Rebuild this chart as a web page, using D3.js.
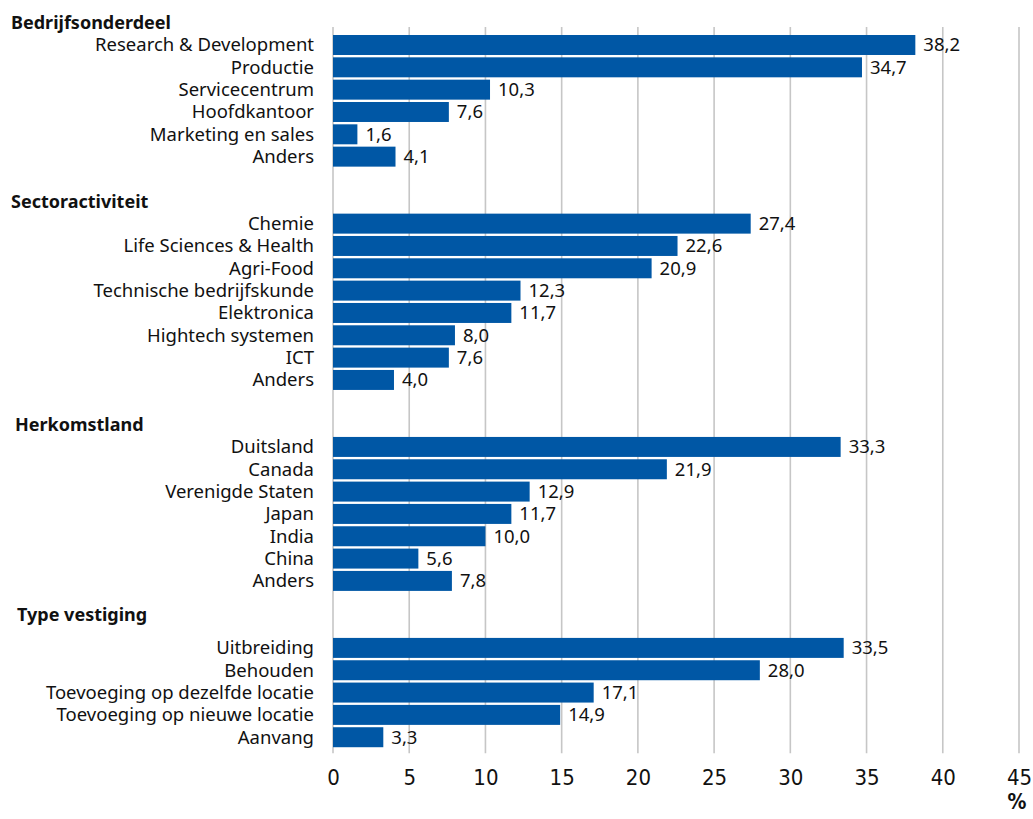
<!DOCTYPE html>
<html>
<head>
<meta charset="utf-8">
<script src="https://cdn.jsdelivr.net/npm/d3@7"></script>
<style>
  html, body { margin: 0; padding: 0; background: #fff; }
  svg { display: block; }
</style>
</head>
<body>
<svg id="chart" width="1033" height="819"></svg>
<script>
// Group titles
const groupTitles = ["Bedrijfsonderdeel", "Sectoractiviteit", "Herkomstland", "Type vestiging"];

// Bedrijfsonderdeel
const bedrijfsonderdeelLabels = ["Research & Development", "Productie", "Servicecentrum", "Hoofdkantoor", "Marketing en sales", "Anders"];
const bedrijfsonderdeelValues = [38.2, 34.7, 10.3, 7.6, 1.6, 4.1];

// Sectoractiviteit
const sectorLabels = ["Chemie", "Life Sciences & Health", "Agri-Food", "Technische bedrijfskunde", "Elektronica", "Hightech systemen", "ICT", "Anders"];
const sectorValues = [27.4, 22.6, 20.9, 12.3, 11.7, 8.0, 7.6, 4.0];

// Herkomstland
const herkomstLabels = ["Duitsland", "Canada", "Verenigde Staten", "Japan", "India", "China", "Anders"];
const herkomstValues = [33.3, 21.9, 12.9, 11.7, 10.0, 5.6, 7.8];

// Type vestiging
const vestigingLabels = ["Uitbreiding", "Behouden", "Toevoeging op dezelfde locatie", "Toevoeging op nieuwe locatie", "Aanvang"];
const vestigingValues = [33.5, 28.0, 17.1, 14.9, 3.3];

// Axis ticks
const tickValues = [0, 5, 10, 15, 20, 25, 30, 35, 40, 45];
const unitLabel = "%";

const groupLabels = [bedrijfsonderdeelLabels, sectorLabels, herkomstLabels, vestigingLabels];
const groupValues = [bedrijfsonderdeelValues, sectorValues, herkomstValues, vestigingValues];

// ---- layout ----
const BLUE = "#0057a5";
const GRID = "#c6c6c6";
const LABEL_FONT = "'Noto Sans', 'Open Sans', sans-serif";
const TICK_FONT = "'Liberation Sans Narrow', 'DejaVu Sans Condensed', sans-serif";
const headerX = [11, 11, 15, 17];
const headerNudge = [0, 0, 0, -0.5];   // in row steps

// Build row keys: header row, category rows, spacer row between groups
const rows = [];
groupTitles.forEach((t, g) => {
  if (g > 0) rows.push({ key: "gap-" + g, type: "gap" });
  rows.push({ key: "head-" + g, type: "head", g, text: t });
  groupLabels[g].forEach((lab, i) => {
    rows.push({ key: g + "-" + i, type: "bar", g, label: lab, value: groupValues[g][i] });
  });
});

const svg = d3.select("#chart");

const x = d3.scaleLinear().domain([0, 45]).range([333, 1019]);

const step = 22.33;
const pad = 0.105;
const y = d3.scaleBand()
  .domain(rows.map(r => r.key))
  .range([11.5, 11.5 + rows.length * step])
  .paddingInner(pad)
  .paddingOuter(pad / 2);

const barRows = rows.filter(r => r.type === "bar");
const firstBar = barRows[0], lastBar = barRows[barRows.length - 1];
const gridTop = y(firstBar.key) - 8;
const gridBottom = y(lastBar.key) + y.bandwidth() + 6;

// vertical gridlines
svg.append("g")
  .selectAll("line")
  .data(tickValues)
  .join("line")
  .attr("x1", d => x(d)).attr("x2", d => x(d))
  .attr("y1", gridTop).attr("y2", gridBottom)
  .attr("stroke", GRID)
  .attr("stroke-width", 1.6);

// bars
svg.append("g")
  .selectAll("rect")
  .data(barRows)
  .join("rect")
  .attr("x", x(0))
  .attr("y", d => y(d.key))
  .attr("width", d => x(d.value) - x(0))
  .attr("height", y.bandwidth())
  .attr("fill", BLUE);

// category labels
svg.append("g")
  .selectAll("text")
  .data(barRows)
  .join("text")
  .attr("x", 314)
  .attr("y", d => y(d.key) + y.bandwidth() / 2)
  .attr("dy", "0.35em")
  .attr("text-anchor", "end")
  .attr("font-family", LABEL_FONT)
  .attr("font-size", 18.5)
  .attr("fill", "#111")
  .text(d => d.label);

// value labels
const fmt = v => d3.format(".1f")(v).replace(".", ",");
svg.append("g")
  .selectAll("text")
  .data(barRows)
  .join("text")
  .attr("x", d => x(d.value) + 8)
  .attr("y", d => y(d.key) + y.bandwidth() / 2)
  .attr("dy", "0.35em")
  .attr("font-family", LABEL_FONT)
  .attr("font-size", 18.5)
  .attr("fill", "#111")
  .text(d => fmt(d.value));

// group headers
svg.append("g")
  .selectAll("text")
  .data(rows.filter(r => r.type === "head"))
  .join("text")
  .attr("x", d => headerX[d.g])
  .attr("y", d => y(d.key) + y.bandwidth() / 2 + headerNudge[d.g] * step)
  .attr("dy", "0.35em")
  .attr("font-family", LABEL_FONT)
  .attr("font-weight", "bold")
  .attr("font-size", 18)
  .attr("fill", "#111")
  .text(d => d.text);

// x axis tick labels
const axis = d3.axisBottom(x).tickValues(tickValues).tickSize(0).tickPadding(0);
const axisG = svg.append("g")
  .attr("transform", `translate(0, ${gridBottom + 16})`)
  .call(axis);
axisG.select(".domain").remove();
axisG.selectAll("text")
  .attr("font-family", TICK_FONT)
  .attr("font-size", 22)
  .attr("fill", "#111");

// unit label
svg.append("text")
  .attr("x", x(45) - 2)
  .attr("y", gridBottom + 56)
  .attr("text-anchor", "middle")
  .attr("font-family", TICK_FONT)
  .attr("font-weight", "bold")
  .attr("font-size", 21)
  .attr("fill", "#111")
  .text(unitLabel);
</script>
</body>
</html>
